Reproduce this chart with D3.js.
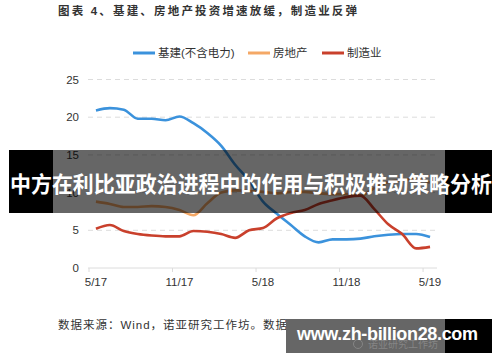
<!DOCTYPE html>
<html>
<head>
<meta charset="utf-8">
<script src="https://cdn.jsdelivr.net/npm/d3@7"></script>
<style>
  body { margin: 0; background: #fff; }
  svg { display: block; font-family: "Liberation Sans", "Noto Sans CJK SC", sans-serif; }
</style>
</head>
<body>
<script>
// months 2017-05 .. 2019-05
const months = ["5/17","6/17","7/17","8/17","9/17","10/17","11/17","12/17",
  "1/18","2/18","3/18","4/18","5/18","6/18","7/18","8/18","9/18","10/18","11/18","12/18",
  "1/19","2/19","3/19","4/19","5/19"]
const tickLabels = ["5/17","11/17","5/18","11/18","5/19"]
const yTicks = [0, 5, 10, 15, 20, 25]

const infra = [20.9,21.2,21.0,19.8,19.8,19.6,20.1,19.2,17.9,16.2,13.7,11.6,8.8,7.2,5.7,4.2,3.4,3.8,3.8,3.9,4.2,4.4,4.5,4.5,4.1]
const property = [8.8,8.5,8.1,8.1,8.2,8.1,7.7,7.0,8.6,10.0,10.3,10.2,10.1,9.9,10.1,10.1,9.9,9.8,9.8,9.6,10.6,11.4,11.7,11.8,11.3]
const manuf = [5.2,5.7,4.9,4.5,4.3,4.2,4.2,4.9,4.8,4.5,4.0,5.0,5.3,6.6,7.3,7.7,8.5,9.0,9.4,9.6,7.8,5.8,4.5,2.6,2.8]

const series = [
  { name: "基建(不含电力)", values: infra, color: "#3b92dc" },
  { name: "房地产", values: property, color: "#f4a866" },
  { name: "制造业", values: manuf, color: "#c9402c" }
]

const svg = d3.select("body").append("svg")
  .attr("width", 500)
  .attr("height", 362)

const x = d3.scaleBand().domain(months).range([89, 437]).paddingInner(0)
const cx = m => x(m) + x.bandwidth() / 2
const y = d3.scaleLinear().domain([0, 25]).range([268, 79.5])

// title
svg.append("text")
  .attr("x", 58).attr("y", 15)
  .attr("textLength", 299)
  .attr("font-size", 11.5).attr("font-weight", "bold")
  .attr("fill", "#333")
  .text("图表 4、基建、房地产投资增速放缓，制造业反弹")

// legend
let lx = [133, 248, 322]
series.forEach((s, i) => {
  svg.append("line")
    .attr("x1", lx[i]).attr("x2", lx[i] + 22)
    .attr("y1", 53).attr("y2", 53)
    .attr("stroke", s.color).attr("stroke-width", 3)
  svg.append("text")
    .attr("x", lx[i] + 25).attr("y", 57)
    .attr("font-size", 11.5).attr("fill", "#333")
    .text(s.name)
})

// grid
yTicks.filter(d => d > 0).forEach(d => {
  svg.append("line")
    .attr("x1", 88).attr("x2", 436)
    .attr("y1", y(d)).attr("y2", y(d))
    .attr("stroke", "#dcdcdc").attr("stroke-dasharray", "5,4")
})
svg.append("line")
  .attr("x1", 88).attr("x2", 437)
  .attr("y1", y(0)).attr("y2", y(0))
  .attr("stroke", "#dcdcdc")

// y labels
svg.selectAll(".yl").data(yTicks).enter().append("text")
  .attr("x", 79).attr("y", d => y(d) + 4)
  .attr("text-anchor", "end")
  .attr("font-size", 11.5).attr("fill", "#333")
  .text(d => d)

// x ticks (between months) + labels
tickLabels.forEach(m => {
  svg.append("line")
    .attr("x1", x(m)).attr("x2", x(m))
    .attr("y1", y(0)).attr("y2", y(0) + 4)
    .attr("stroke", "#dcdcdc")
  svg.append("text")
    .attr("x", cx(m)).attr("y", 286)
    .attr("text-anchor", "middle")
    .attr("font-size", 11.5).attr("fill", "#333")
    .text(m)
})

// lines
const lineFunction = d3.line()
  .x((d, i) => cx(months[i]))
  .y(d => y(d))
  .curve(d3.curveMonotoneX)

series.forEach(s => {
  svg.append("path")
    .attr("d", lineFunction(s.values))
    .attr("stroke", s.color)
    .attr("stroke-width", 2.6)
    .attr("fill", "none")
})

// source
svg.append("text")
  .attr("x", 58).attr("y", 329)
  .attr("textLength", 345)
  .attr("font-size", 11.5).attr("fill", "#333")
  .text("数据来源：Wind，诺亚研究工作坊。数据更新至 2019 年 5 月")

// banner overlay: black sides, translucent middle over the chart
svg.append("rect").attr("x", 9).attr("y", 150).attr("width", 44).attr("height", 63).attr("fill", "#000")
svg.append("rect").attr("x", 445).attr("y", 150).attr("width", 47).attr("height", 63).attr("fill", "#000")
svg.append("rect").attr("x", 53).attr("y", 150).attr("width", 392).attr("height", 63).attr("fill", "rgba(0,0,0,0.6)")
svg.append("text")
  .attr("x", 251).attr("y", 192)
  .attr("text-anchor", "middle")
  .attr("textLength", 482).attr("lengthAdjust", "spacingAndGlyphs")
  .attr("font-size", 22).attr("font-weight", "bold")
  .attr("font-family", "Noto Sans CJK SC")
  .attr("fill", "#fff")
  .text("中方在利比亚政治进程中的作用与积极推动策略分析")

// watermark box
svg.append("rect").attr("x", 286).attr("y", 319).attr("width", 206).attr("height", 34).attr("fill", "#000")
svg.append("rect").attr("x", 286).attr("y", 319).attr("width", 159).attr("height", 34).attr("fill", "#666")
svg.append("text")
  .attr("x", 368).attr("y", 348)
  .attr("font-size", 10).attr("fill", "#858585")
  .text("诺亚研究工作坊")
svg.append("circle").attr("cx", 358).attr("cy", 344).attr("r", 4.5)
  .attr("fill", "none").attr("stroke", "#858585")
svg.append("text")
  .attr("x", 297).attr("y", 340)
  .attr("textLength", 181)
  .attr("font-size", 18).attr("font-weight", "bold")
  .attr("fill", "#fff")
  .text("www.zh-billion28.com")
</script>
</body>
</html>
